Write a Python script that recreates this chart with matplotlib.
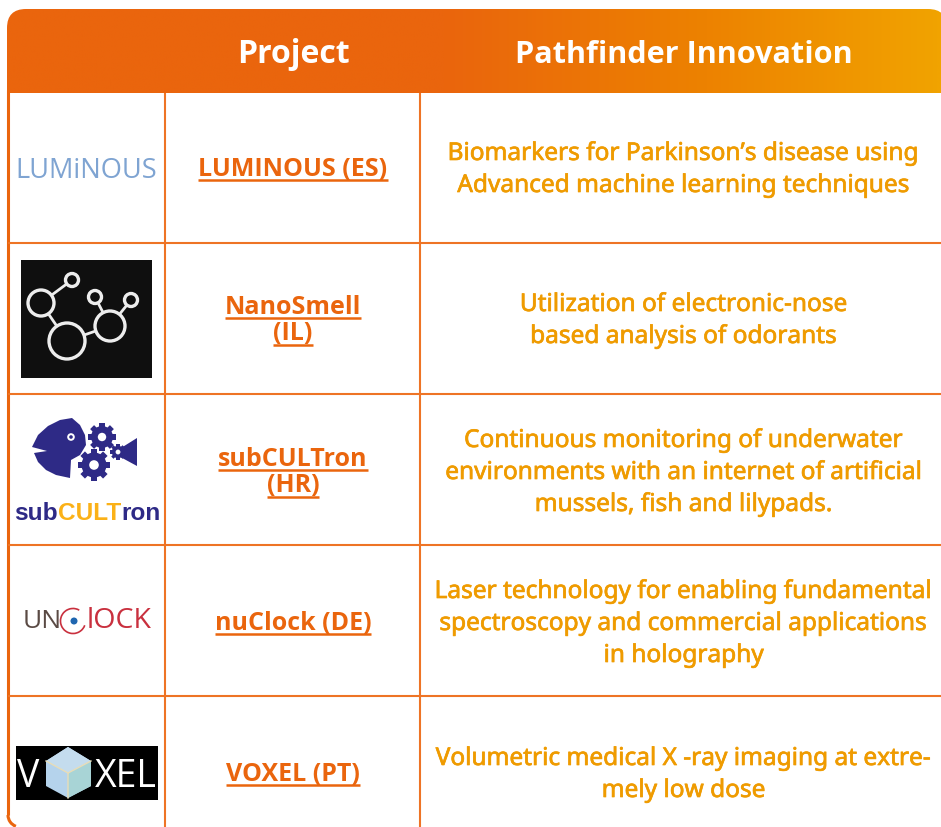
import numpy as np
import matplotlib
matplotlib.use("Agg")
import matplotlib.pyplot as plt
import matplotlib.patheffects as pe
from matplotlib.colors import LinearSegmentedColormap
from matplotlib.patches import Circle, FancyBboxPatch, Polygon, Rectangle, Arc

headers = ["Project", "Pathfinder Innovation"]
projects = [
    ["LUMINOUS (ES)"],
    ["NanoSmell", "(IL)"],
    ["subCULTron", "(HR)"],
    ["nuClock (DE)"],
    ["VOXEL (PT)"],
]
innovations = [
    ["Biomarkers for Parkinson’s disease using", "Advanced machine learning techniques"],
    ["Utilization of electronic-nose", "based analysis of odorants"],
    ["Continuous monitoring of underwater", "environments with an internet of artificial", "mussels, fish and lilypads."],
    ["Laser technology for enabling fundamental", "spectroscopy and commercial applications", "in holography"],
    ["Volumetric medical X -ray imaging at extre-", "mely low dose"],
]

W, H = 941, 827
ORANGE = "#EA650D"
LINE = "#EE7425"
AMBER = "#EF9B00"
row_edges = [93, 243, 394, 545, 696, 827]
row_mids = [168, 319, 471, 622, 773]
col_edges = [8, 165, 420]
project_x = 293
innovation_x = 684

fig = plt.figure(figsize=(W / 100, H / 100), dpi=100)
ax = fig.add_axes([0, 0, 1, 1])
ax.set_xlim(0, W)
ax.set_ylim(H, 0)
ax.axis("off")


def rounded(x0, y0, x1, y1, r, **kw):
    return FancyBboxPatch((x0 + r, y0 + r), x1 - x0 - 2 * r, y1 - y0 - 2 * r,
                          boxstyle=f"round,pad={r},rounding_size={r}", **kw)


def run_of_text(parts, x, y, size, **kw):
    # parts = (string, colour), placed one after the other
    for s, c in parts:
        t = ax.text(x, y, s, color=c, fontsize=size, va="baseline", ha="left", **kw)
        bb = t.get_window_extent(fig.canvas.get_renderer())
        x = bb.x1 + 0.3


def gear(cx, cy, r, color="#2E2A86"):
    ax.add_patch(Circle((cx, cy), r * 0.78, fc=color, ec="none", zorder=3))
    for a in np.arange(0, 2 * np.pi, np.pi / 4):
        c, s = np.cos(a), np.sin(a)
        w = r * 0.2
        pts = [(cx + r * .6 * c - w * s, cy + r * .6 * s + w * c),
               (cx + r * c - w * s, cy + r * s + w * c),
               (cx + r * c + w * s, cy + r * s - w * c),
               (cx + r * .6 * c + w * s, cy + r * .6 * s - w * c)]
        ax.add_patch(Polygon(pts, fc=color, ec="none", zorder=3))
    ax.add_patch(Circle((cx, cy), r * 0.3, fc="white", ec="none", zorder=4))


# header band with gradient
cmap = LinearSegmentedColormap.from_list("head", [(0, ORANGE), (0.47, ORANGE), (0.75, "#ED8200"), (1, "#F1A300")])
grad = np.linspace(0, 1, 600).reshape(1, -1)
im = ax.imshow(grad, cmap=cmap, extent=(7, 941, 93, 9), aspect="auto", zorder=1)
clip = rounded(7, 9, 947, 140, 19, transform=ax.transData, fc="none", ec="none")
ax.add_patch(clip)
im.set_clip_path(clip)
ax.set_xlim(0, W)
ax.set_ylim(H, 0)

# grid
ax.plot([8, 8], [90, 815], color=ORANGE, lw=2.2, zorder=2, solid_capstyle="butt")
ax.add_patch(Arc((20, 815), 24, 24, theta1=110, theta2=180, color=ORANGE, lw=2.2, zorder=2))
for y in row_edges[1:-1]:
    ax.plot([8, W], [y, y], color=LINE, lw=1.5, zorder=2, solid_capstyle="butt")
for x in col_edges[1:]:
    ax.plot([x, x], [93, H], color=LINE, lw=1.5, zorder=2, solid_capstyle="butt")

# header text
ax.text(project_x, 63, headers[0], color="white", fontsize=23, fontweight="bold",
        family="Open Sans", ha="center", va="baseline", zorder=3)
ax.text(innovation_x, 63, headers[1], color="white", fontsize=22.1, fontweight="bold",
        family="Open Sans", ha="center", va="baseline", zorder=3)

# table text
renderer = fig.canvas.get_renderer()
for i in range(len(projects)):
    mid = row_mids[i]
    lines = projects[i]
    for k, s in enumerate(lines):
        y = mid + (k - (len(lines) - 1) / 2) * 27 + 8
        t = ax.text(project_x, y, s, color=ORANGE, fontsize=18, fontweight="bold",
                    family="Open Sans", ha="center", va="baseline", zorder=3)
        bb = t.get_window_extent(renderer)
        ax.plot([bb.x0, bb.x1], [y + 4, y + 4], color=ORANGE, lw=1.8, zorder=3, solid_capstyle="butt")
    lines = innovations[i]
    for k, s in enumerate(lines):
        y = mid + (k - (len(lines) - 1) / 2) * 32 + 8
        ax.text(innovation_x, y, s, color=AMBER, fontsize=17.6, family="Noto Sans",
                ha="center", va="baseline", zorder=3,
                path_effects=[pe.withStroke(linewidth=0.5, foreground=AMBER)])

# logo 1
ax.text(86, 178, "LUMiNOUS", color="#7FA4D2", fontsize=19.6, family="Open Sans",
        ha="center", va="baseline", zorder=3)

# logo 2
ax.add_patch(Rectangle((21, 260), 131, 118, fc="#0F0F0F", ec="none", zorder=3))
nodes = [(72, 280, 6.5), (41, 303, 13), (67, 341, 18), (110, 326, 15), (95, 297, 6.5), (131, 300, 6.5)]
links = [(0, 1), (1, 2), (2, 3), (3, 4), (3, 5)]
for a, b in links:
    ax.plot([nodes[a][0], nodes[b][0]], [nodes[a][1], nodes[b][1]], color="#EDEDED", lw=2, zorder=3.5)
for cx, cy, r in nodes:
    ax.add_patch(Circle((cx, cy), r, fc="#0F0F0F", ec="#EDEDED", lw=2.4, zorder=4))

# logo 3
BLUE = "#2E2A86"
body = [(32, 447), (38, 435), (48, 426), (60, 420), (72, 418), (80, 425), (85, 435), (86, 445), (80, 455),
        (71, 460), (70, 478), (56, 475), (46, 470), (38, 462), (34, 453), (47, 451)]
ax.add_patch(Polygon(body, fc=BLUE, ec="none", zorder=3))
ax.add_patch(Polygon([(113, 453), (137, 438), (137, 466)], fc=BLUE, ec="none", zorder=3))
ax.add_patch(Circle((71, 437), 3.8, fc="white", ec="none", zorder=4))
ax.add_patch(Circle((71, 437), 1.8, fc=BLUE, ec="none", zorder=4))
gear(102, 437, 14)
gear(94, 465, 16)
gear(118, 452, 8)
run_of_text([("sub", BLUE), ("CULT", "#FBB117"), ("ron", BLUE)], 14, 520, 17.6,
            family="Liberation Sans", fontweight="bold", zorder=3)

# logo 4
run_of_text([("UN", "#5A4A44")], 23, 628, 19, family="Open Sans", zorder=3)
ax.add_patch(Arc((73, 621), 25, 25, theta1=20, theta2=300, color="#C9303E", lw=1.2, zorder=3))
ax.add_patch(Circle((74, 621), 3.5, fc="#1F66B0", ec="none", zorder=3))
run_of_text([("lOCK", "#C9303E")], 87, 628, 20.5, family="Open Sans", zorder=3)

# logo 5
ax.add_patch(Rectangle((16, 746), 142, 54, fc="black", ec="none", zorder=3))
ax.text(28, 787, "V", color="white", fontsize=27, family="Open Sans", ha="center", va="baseline", zorder=4)
ax.text(126, 787, "XEL", color="white", fontsize=27, family="Open Sans", ha="center", va="baseline", zorder=4)
hexa = [(68, 747), (91, 761), (91, 786), (68, 798), (46, 786), (46, 761)]
ax.add_patch(Polygon(hexa, fc="#B5D3EC", ec="none", zorder=4))
ax.add_patch(Polygon([(68, 747), (91, 761), (68, 773), (46, 761)], fc="#C4DCEE", ec="none", zorder=4))
ax.add_patch(Polygon([(68, 773), (91, 761), (91, 786), (68, 798)], fc="#A8D4D6", ec="none", zorder=4))
ax.plot([68, 68, 91], [798, 773, 761], color="#E8DDB8", lw=1, zorder=5)
ax.plot([46, 68], [761, 773], color="#E8DDB8", lw=1, zorder=5)

fig.savefig("out.png", dpi=100)
